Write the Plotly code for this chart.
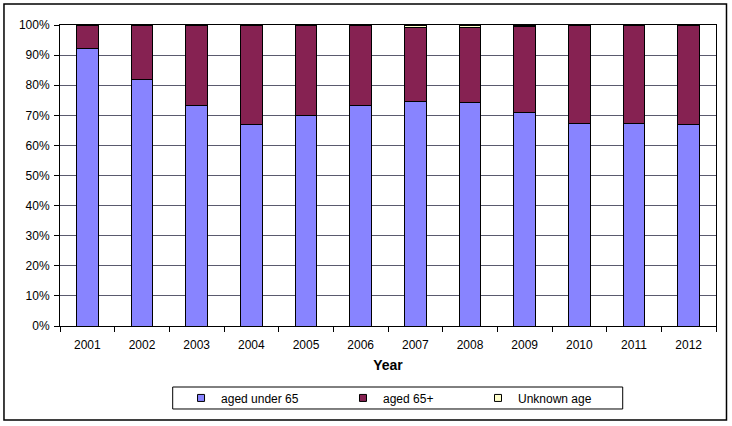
import plotly.graph_objects as go

# share of cases by age group, per year (percent)
years = ['2001', '2002', '2003', '2004', '2005', '2006',
         '2007', '2008', '2009', '2010', '2011', '2012']
under_65 = [92.3, 82.0, 73.3, 66.8, 70.0, 73.4, 74.6, 74.3, 71.0, 67.4, 67.4, 66.8]
aged_65_plus = [7.7, 18.0, 26.7, 33.2, 30.0, 26.6, 24.6, 24.9, 28.6, 32.6, 32.6, 33.2]
unknown_age = [0.0, 0.0, 0.0, 0.0, 0.0, 0.0, 0.8, 0.8, 0.4, 0.0, 0.0, 0.0]

series = [
    ('aged under 65', under_65, '#8884FF'),
    ('aged 65+', aged_65_plus, '#862252'),
    ('Unknown age', unknown_age, '#FFFFCC'),
]

# left edge (paper x) of each legend entry, Excel spaces them unevenly
legend_x = [0.1845, 0.4314, 0.6372]

fig = go.Figure()
for i, (name, values, colour) in enumerate(series):
    fig.add_trace(go.Bar(
        name=name,
        x=years,
        y=values,
        marker=dict(color=colour, line=dict(color='black', width=1)),
        showlegend=False,
    ))
    # small square swatch for the legend only
    legend_id = 'legend' if i == 0 else 'legend%d' % (i + 1)
    fig.add_trace(go.Scatter(
        name=name,
        x=[None],
        y=[None],
        mode='markers',
        marker=dict(symbol='square', size=7, color=colour,
                    line=dict(color='black', width=1)),
        legend=legend_id,
        showlegend=True,
    ))

legend_style = dict(
    orientation='h',
    xanchor='left',
    y=-0.239, yanchor='middle',
    itemwidth=30,
    font=dict(size=12),
    bgcolor='rgba(0,0,0,0)',
)

fig.update_layout(
    width=732,
    height=426,
    barmode='stack',
    bargap=0.6,
    plot_bgcolor='white',
    paper_bgcolor='white',
    font=dict(family='Liberation Sans, Arial, sans-serif', size=12, color='black'),
    margin=dict(l=60, r=16, t=25, b=100),
    legend=dict(x=legend_x[0], **legend_style),
    legend2=dict(x=legend_x[1], **legend_style),
    legend3=dict(x=legend_x[2], **legend_style),
    xaxis=dict(
        title=dict(text='<b>Year</b>', standoff=8),
        tickson='boundaries',
        ticks='outside',
        ticklen=5,
        tickcolor='black',
        ticklabelstandoff=8,
        showline=True,
        linecolor='black',
        linewidth=1,
        mirror=True,
        showgrid=False,
    ),
    yaxis=dict(
        range=[0, 100],
        dtick=10,
        ticksuffix='%',
        ticks='outside',
        ticklen=5,
        tickcolor='black',
        ticklabelstandoff=2,
        showline=True,
        linecolor='black',
        linewidth=1,
        mirror=True,
        showgrid=True,
        gridcolor='#5a5a6e',
        gridwidth=1,
        zeroline=False,
        fixedrange=True,
    ),
)

# legend frame and outer chart frame, drawn like the Excel chart
fig.add_shape(type='rect', xref='paper', yref='paper',
              x0=0.1718, x1=0.8578, y0=-0.2757, y1=-0.2027,
              line=dict(color='black', width=1))
fig.add_shape(type='rect', xref='paper', yref='paper',
              x0=-0.0854, x1=1.0160, y0=-0.3123, y1=1.0698,
              line=dict(color='black', width=1.5))

# drop the default page margin so the chart sits at the window's corner
fig.write_html("out.html",
               config={'displayModeBar': False},
               post_script="document.body.style.margin='0px';")
